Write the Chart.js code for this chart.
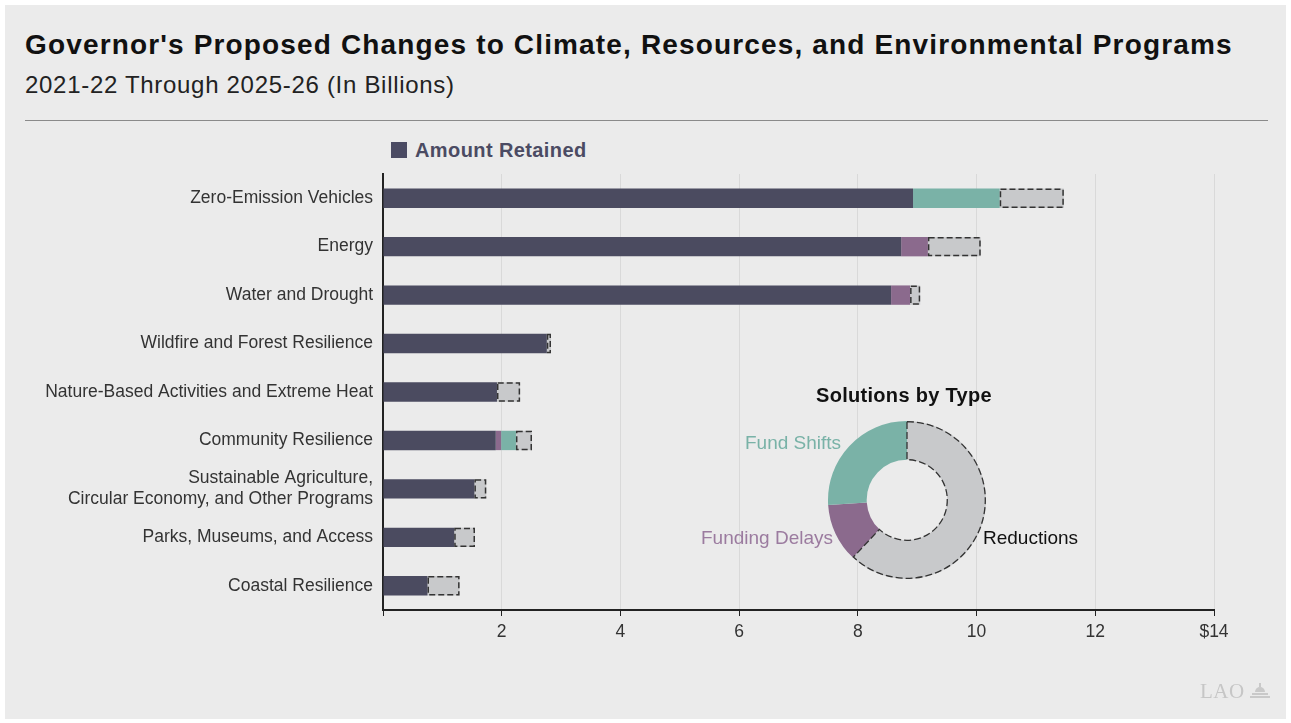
<!DOCTYPE html>
<html>
<head>
<meta charset="utf-8">
<script src="https://cdn.jsdelivr.net/npm/chart.js@4"></script>
<style>
  html, body { margin: 0; padding: 0; background: #ffffff; }
  body { width: 1291px; height: 723px; position: relative; overflow: hidden;
         font-family: "Liberation Sans", Arial, sans-serif; }
  #panel { position: absolute; left: 5px; top: 5px; width: 1281px; height: 714px; background: #ebebeb; }
  .txt { position: absolute; white-space: nowrap; line-height: 1; }
  #title { left: 25px; top: 31px; font-size: 28px; letter-spacing: 1.15px; font-weight: bold; color: #111; }
  #subtitle { left: 25px; top: 73px; font-size: 24px; letter-spacing: 0.7px; color: #222; }
  #rule { position: absolute; left: 25px; top: 120px; width: 1243px; height: 0; border-top: 1.5px solid #8a8a8a; }
  #legend { left: 391px; top: 140px; font-size: 20px; letter-spacing: 0.4px; font-weight: bold; color: #4b4b63; }
  #legend span { display: inline-block; width: 16px; height: 16px; background: #4b4b63; margin-right: 8px; vertical-align: -1px; }
  #donutTitle { left: 816px; top: 385px; font-size: 20px; letter-spacing: 0.3px; font-weight: bold; color: #111; }
  #lblShifts { left: 745px; top: 433px; font-size: 19px; color: #79b2a7; }
  #lblDelays { left: 701px; top: 528px; font-size: 19px; color: #9b7b9f; }
  #lblReductions { left: 983px; top: 528px; font-size: 19px; color: #111; }
  #logo { left: 1200px; top: 681px; font-size: 21px; letter-spacing: 0.5px; color: #c6c6c6; font-family: "Liberation Serif", serif; }
  .mark { position: absolute; background: #c9c9c9; }
  #bars { position: absolute; left: 0; top: 0; }
  #donut { position: absolute; left: 827px; top: 420px; }
</style>
</head>
<body>
<div id="panel"></div>
<div class="txt" id="title">Governor's Proposed Changes to Climate, Resources, and Environmental Programs</div>
<div class="txt" id="subtitle">2021-22 Through 2025-26 (In Billions)</div>
<div id="rule"></div>
<div class="txt" id="legend"><span></span>Amount Retained</div>
<canvas id="bars" width="1291" height="723"></canvas>
<canvas id="donut" width="160" height="160"></canvas>
<div class="txt" id="donutTitle">Solutions by Type</div>
<div class="txt" id="lblShifts">Fund Shifts</div>
<div class="txt" id="lblDelays">Funding Delays</div>
<div class="txt" id="lblReductions">Reductions</div>
<div class="txt" id="logo">LAO</div>
<div class="mark" style="left:1259px;top:683px;width:2px;height:4px;"></div>
<div class="mark" style="left:1255px;top:687px;width:10px;height:5px;border-radius:5px 5px 0 0;"></div>
<div class="mark" style="left:1252px;top:693px;width:16px;height:1.5px;"></div>
<div class="mark" style="left:1250px;top:696px;width:20px;height:1.5px;"></div>

<script>
Chart.defaults.font.family = '"Liberation Sans", Arial, sans-serif';
Chart.defaults.color = "#333";

const programs = [
    "Zero-Emission Vehicles",
    "Energy",
    "Water and Drought",
    "Wildfire and Forest Resilience",
    "Nature-Based Activities and Extreme Heat",
    "Community Resilience",
    ["Sustainable Agriculture,", "Circular Economy, and Other Programs"],
    "Parks, Museums, and Access",
    "Coastal Resilience",
];

// billions of dollars
const amountRetained = [8.93, 8.73, 8.56, 2.76, 1.92, 1.9, 1.54, 1.2, 0.75];
const fundingDelays = [0, 0.45, 0.32, 0, 0, 0.09, 0, 0, 0];
const fundShifts = [1.46, 0, 0, 0, 0, 0.25, 0, 0, 0];
const reductions = [1.08, 0.89, 0.17, 0.07, 0.39, 0.27, 0.2, 0.35, 0.54];

const solutionTypes = ["Reductions", "Funding Delays", "Fund Shifts"];
const solutionShares = [62, 12, 26];

const xTicks = [0, 2, 4, 6, 8, 10, 12, 14];

// dashed outline around the "reductions" pieces
const dashedBars = {
    id: "dashedBars",
    afterDatasetsDraw(chart) {
        const meta = chart.getDatasetMeta(3);
        const ctx = chart.ctx;
        ctx.save();
        ctx.strokeStyle = "#333";
        ctx.lineWidth = 1.5;
        ctx.setLineDash([6, 3]);
        meta.data.forEach((bar, i) => {
            if (!reductions[i]) return;
            const p = bar.getProps(["x", "y", "base", "height"], true);
            const left = Math.min(p.x, p.base);
            const w = Math.abs(p.x - p.base);
            ctx.strokeRect(left + 0.75, p.y - p.height / 2 + 0.75, w - 1.5, p.height - 1.5);
        });
        ctx.restore();
    },
};

new Chart(document.getElementById("bars"), {
    type: "bar",
    data: {
        labels: programs,
        datasets: [
            { label: "Amount Retained", data: amountRetained, backgroundColor: "#4b4b60" },
            { label: "Funding Delays", data: fundingDelays, backgroundColor: "#8b6a8d" },
            { label: "Fund Shifts", data: fundShifts, backgroundColor: "#7ab2a7" },
            { label: "Reductions", data: reductions, backgroundColor: "#c8c9cb" },
        ],
    },
    options: {
        indexAxis: "y",
        responsive: false,
        animation: false,
        barPercentage: 0.8,
        categoryPercentage: 0.5,
        layout: { padding: { top: 174, right: 77, bottom: 63, left: 0 } },
        plugins: { legend: { display: false }, tooltip: { enabled: false } },
        scales: {
            x: {
                stacked: true,
                min: 0,
                max: 14,
                afterBuildTicks: (scale) => {
                    scale.ticks = xTicks.map((v) => ({ value: v }));
                },
                afterFit: (scale) => {
                    scale.height = 50;
                },
                ticks: {
                    padding: 6,
                    color: "#333",
                    font: { size: 17.5 },
                    callback: (v) => (v === 0 ? "" : v === 14 ? "$14" : v),
                },
                grid: { color: "#d9d9d9", tickColor: "#222", tickLength: 6 },
                border: { color: "#222", width: 2 },
            },
            y: {
                stacked: true,
                afterFit: (scale) => {
                    scale.width = 383;
                },
                ticks: { padding: 10, color: "#333", font: { size: 17.5 } },
                grid: { display: false, drawTicks: false },
                border: { color: "#222", width: 2 },
            },
        },
    },
    plugins: [dashedBars],
});

// dashed outline for the reductions slice
const dashedSlice = {
    id: "dashedSlice",
    afterDatasetsDraw(chart) {
        const arc = chart.getDatasetMeta(0).data[0];
        const p = arc.getProps(["x", "y", "startAngle", "endAngle", "innerRadius", "outerRadius"], true);
        const ctx = chart.ctx;
        ctx.save();
        ctx.strokeStyle = "#333";
        ctx.lineWidth = 1.3;
        ctx.setLineDash([7, 3]);
        ctx.beginPath();
        ctx.arc(p.x, p.y, p.outerRadius - 0.7, p.startAngle, p.endAngle);
        ctx.arc(p.x, p.y, p.innerRadius, p.endAngle, p.startAngle, true);
        ctx.closePath();
        ctx.stroke();
        ctx.restore();
    },
};

new Chart(document.getElementById("donut"), {
    type: "doughnut",
    data: {
        labels: solutionTypes,
        datasets: [
            {
                data: solutionShares,
                backgroundColor: ["#c8c9cb", "#8b6a8d", "#7ab2a7"],
                borderWidth: 0,
            },
        ],
    },
    options: {
        responsive: false,
        animation: false,
        cutout: "51%",
        layout: { padding: 1 },
        plugins: { legend: { display: false }, tooltip: { enabled: false } },
    },
    plugins: [dashedSlice],
});
</script>
</body>
</html>
